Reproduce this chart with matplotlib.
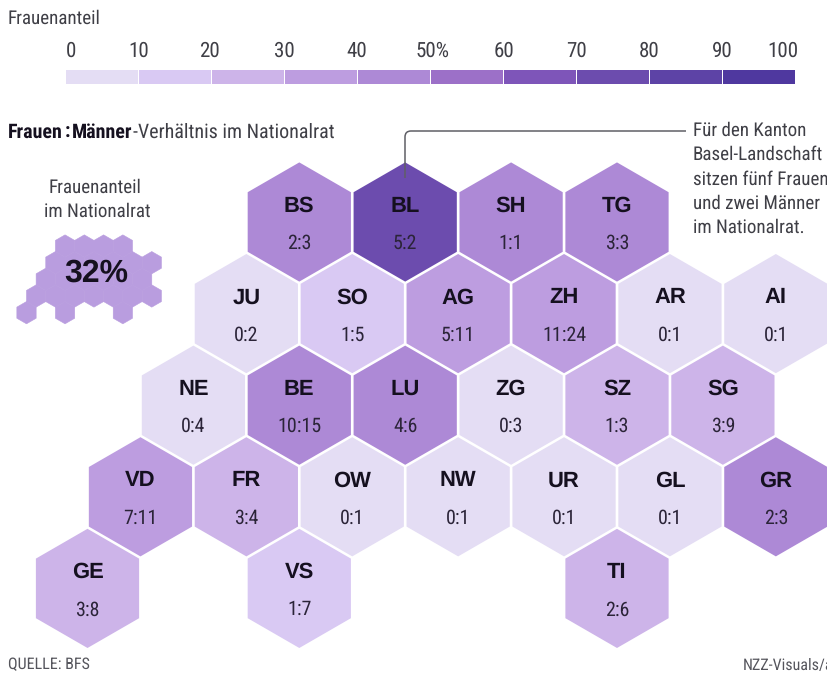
#!/usr/bin/env python3
import logging
import matplotlib
matplotlib.use('Agg')
import matplotlib.pyplot as plt
from matplotlib import font_manager as fm
from matplotlib.patches import RegularPolygon, Rectangle, PathPatch
from matplotlib.path import Path

logging.getLogger('matplotlib.font_manager').setLevel(logging.ERROR)
plt.rcParams['text.hinting'] = 'no_hinting'
plt.rcParams['text.hinting_factor'] = 1

# narrow face if the machine has one, otherwise Roboto
installed = {f.name for f in fm.fontManager.ttflist}
narrow = next((n for n in ['Roboto Condensed', 'Archivo Narrow', 'Liberation Sans Narrow', 'Roboto']
               if n in installed), 'Liberation Sans')
plt.rcParams['font.family'] = [narrow, 'Liberation Sans', 'DejaVu Sans']

#%% data
cantons = ['BS', 'BL', 'SH', 'TG',
           'JU', 'SO', 'AG', 'ZH', 'AR', 'AI',
           'NE', 'BE', 'LU', 'ZG', 'SZ', 'SG',
           'VD', 'FR', 'OW', 'NW', 'UR', 'GL', 'GR',
           'GE', 'VS', 'TI']
ratios = ['2:3', '5:2', '1:1', '3:3',
          '0:2', '1:5', '5:11', '11:24', '0:1', '0:1',
          '0:4', '10:15', '4:6', '0:3', '1:3', '3:9',
          '7:11', '3:4', '0:1', '0:1', '0:1', '0:1', '2:3',
          '3:8', '1:7', '2:6']
# legend class of each hexagon, as coloured in the picture
classes = [4, 7, 4, 4,
           0, 1, 3, 3, 0, 0,
           0, 4, 4, 0, 2, 2,
           3, 2, 0, 0, 0, 0, 4,
           2, 1, 2]
# grid position (half columns, rows)
cols = [4, 6, 8, 10,
        3, 5, 7, 9, 11, 13,
        2, 4, 6, 8, 10, 12,
        1, 3, 5, 7, 9, 11, 13,
        0, 4, 10]
rows = [0, 0, 0, 0,
        1, 1, 1, 1, 1, 1,
        2, 2, 2, 2, 2, 2,
        3, 3, 3, 3, 3, 3, 3,
        4, 4, 4]

scale_labels = ['0', '10', '20', '30', '40', '50%', '60', '70', '80', '90', '100']
scale_label_x = [71, 139, 209, 284, 357, 433, 504, 576, 649, 722, 783]
scale_colors = ['#e4ddf4', '#d9c9f3', '#cdb4e9', '#bd9de0', '#ad89d6',
                '#9c70c8', '#7e55b9', '#6c4cae', '#5d43a6', '#4f389f']

note_lines = ['Für den Kanton', 'Basel-Landschaft', 'sitzen fünf Frauen',
              'und zwei Männer', 'im Nationalrat.']

#%% layout in reference pixels
W, H = 828, 675
x0, dx = 87.5, 52.95
y0, dy = 222, 91.6
R = 59.6
ink = '#15101f'
grey = '#3f3f46'

fig = plt.figure(figsize=(W / 100, H / 100), dpi=100)
ax = fig.add_axes([0, 0, 1, 1])
ax.set_xlim(0, W)
ax.set_ylim(H, 0)
ax.axis('off')

#%% colour scale
ax.text(8, 19, 'Frauenanteil', fontsize=14, color=grey, va='center')
bar_x, bar_w = 66, 73
for i, c in enumerate(scale_colors):
    ax.add_patch(Rectangle((bar_x + i * bar_w, 70), bar_w - 1.2, 14, fc=c, ec='none'))
for lab, lx in zip(scale_labels, scale_label_x):
    ax.text(lx, 51, lab, fontsize=15, color=grey, ha='center', va='center')

#%% hexagon map
for name, ratio, k, c, r in zip(cantons, ratios, classes, cols, rows):
    cx = x0 + c * dx
    cy = y0 + r * dy
    ax.add_patch(RegularPolygon((cx, cy), 6, radius=R, fc=scale_colors[k], ec='none'))
    ax.text(cx, cy - 16, name, fontsize=15.5, fontweight='bold', family='Liberation Sans',
            color=ink, ha='center', va='center')
    ax.text(cx, cy + 21.5, ratio, fontsize=14.5, color='#2b2438', ha='center', va='center')

#%% small icon, same grid shrunk
k_icon = 0.182
ix0, iy0 = 26.5, 246
for c, r in zip(cols, rows):
    ax.add_patch(RegularPolygon((ix0 + c * dx * k_icon, iy0 + r * dy * k_icon), 6,
                                radius=61.2 * k_icon, fc='#b99ddf', ec='#b99ddf', lw=0.4))
ax.text(95, 188, 'Frauenanteil', fontsize=14, color=grey, ha='center', va='center')
ax.text(97, 212, 'im Nationalrat', fontsize=14, color=grey, ha='center', va='center')
ax.text(96, 273, '32%', fontsize=23, fontweight='bold', family='Liberation Sans',
        color=ink, ha='center', va='center')

#%% heading, bold and regular parts side by side
fig.canvas.draw()
rend = fig.canvas.get_renderer()
tx = 8
for part, weight, col in [('Frauen', 'bold', ink), (':', 'bold', ink), ('Männer', 'bold', ink),
                          ('-Verhältnis im Nationalrat', 'normal', grey)]:
    t = ax.text(tx, 132, part, fontsize=14.2, fontweight=weight, color=col, va='center')
    tx = t.get_window_extent(rend).x1 + (2 if part in ('Frauen', ':') else 0)

#%% annotation
verts = [(405, 178), (405, 137), (405, 131), (411, 131), (686, 131)]
codes = [Path.MOVETO, Path.LINETO, Path.CURVE3, Path.CURVE3, Path.LINETO]
ax.add_patch(PathPatch(Path(verts, codes), fc='none', ec='#5f5f66', lw=1.1))
for i, line in enumerate(note_lines):
    ax.text(693, 131 + i * 24.1, line, fontsize=13.8, color=grey, va='center')

#%% footer
ax.text(8, 665, 'QUELLE: BFS', fontsize=11.5, color='#55555c', va='center')
ax.text(743, 665, 'NZZ-Visuals/a', fontsize=11.5, color='#55555c', va='center')

fig.savefig('out.png', dpi=100)
